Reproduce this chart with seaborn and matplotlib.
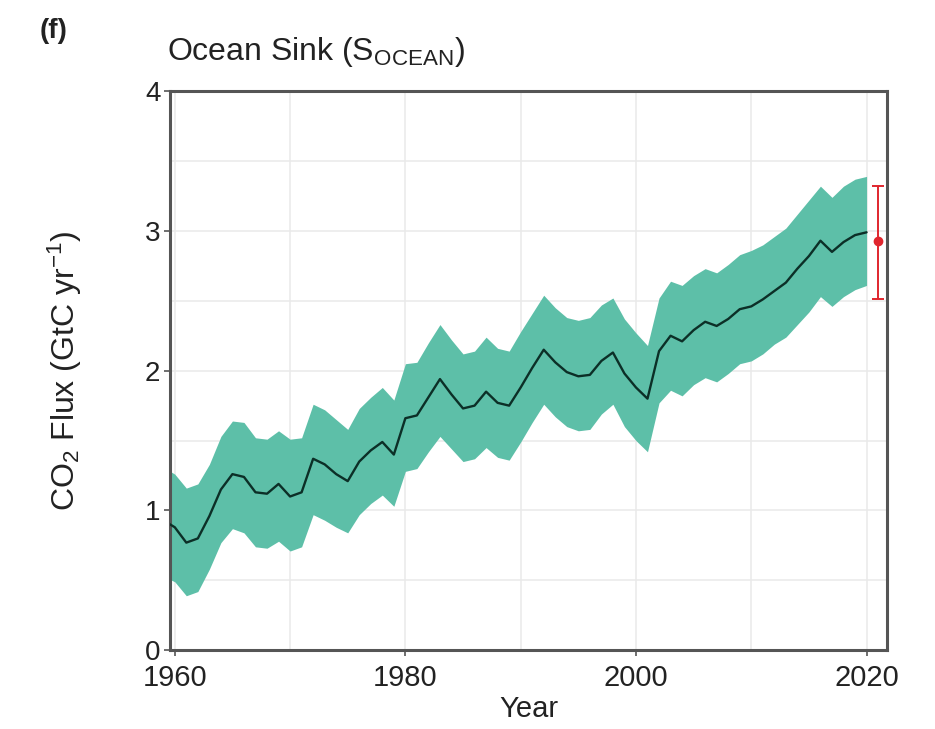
import numpy as np
import pandas as pd
import matplotlib
matplotlib.use("Agg")
import matplotlib.pyplot as plt
from matplotlib.ticker import MultipleLocator
from matplotlib.transforms import ScaledTranslation
import seaborn as sns

# ocean sink, GtC/yr (1959-2020)
years = list(range(1959, 2021))
sink = [0.93, 0.88, 0.77, 0.80, 0.96, 1.15, 1.26, 1.24, 1.13, 1.12,
        1.19, 1.10, 1.13, 1.37, 1.33, 1.26, 1.21, 1.35, 1.43, 1.49,
        1.40, 1.66, 1.68, 1.81, 1.94, 1.83, 1.73, 1.75, 1.85, 1.77,
        1.75, 1.88, 2.02, 2.15, 2.06, 1.99, 1.96, 1.97, 2.07, 2.13,
        1.98, 1.88, 1.80, 2.14, 2.25, 2.21, 2.29, 2.35, 2.32, 2.37,
        2.44, 2.46, 2.51, 2.57, 2.63, 2.73, 2.82, 2.93, 2.85, 2.92,
        2.97, 2.99]
sink_hi = [1.31, 1.26, 1.16, 1.19, 1.33, 1.53, 1.64, 1.63, 1.52, 1.51,
           1.57, 1.51, 1.52, 1.76, 1.72, 1.65, 1.58, 1.73, 1.81, 1.88,
           1.79, 2.05, 2.06, 2.20, 2.33, 2.22, 2.12, 2.14, 2.24, 2.16,
           2.14, 2.28, 2.41, 2.54, 2.45, 2.38, 2.36, 2.38, 2.47, 2.52,
           2.37, 2.27, 2.18, 2.52, 2.64, 2.61, 2.68, 2.73, 2.70, 2.76,
           2.83, 2.86, 2.90, 2.96, 3.02, 3.12, 3.22, 3.32, 3.24, 3.32,
           3.37, 3.39]
sink_lo = [0.53, 0.49, 0.39, 0.42, 0.58, 0.77, 0.87, 0.84, 0.74, 0.73,
           0.78, 0.71, 0.74, 0.97, 0.93, 0.88, 0.84, 0.97, 1.05, 1.11,
           1.03, 1.28, 1.30, 1.42, 1.53, 1.44, 1.35, 1.37, 1.45, 1.38,
           1.36, 1.49, 1.63, 1.76, 1.67, 1.60, 1.57, 1.58, 1.69, 1.76,
           1.60, 1.50, 1.42, 1.77, 1.86, 1.82, 1.90, 1.95, 1.92, 1.98,
           2.05, 2.07, 2.12, 2.19, 2.24, 2.33, 2.42, 2.53, 2.46, 2.53,
           2.58, 2.61]

# 2021 projection with its range
proj_year = 2021
proj_val = 2.93
proj_lo = 2.51
proj_hi = 3.32

df = pd.DataFrame({"Year": years, "sink": sink, "lo": sink_lo, "hi": sink_hi})

sns.set_theme(style="white")
plt.rcParams["font.family"] = ["Liberation Sans", "DejaVu Sans"]
plt.rcParams["mathtext.fontset"] = "custom"
plt.rcParams["mathtext.rm"] = "Liberation Sans"
plt.rcParams["mathtext.it"] = "Liberation Sans:italic"

fig = plt.figure(figsize=(9.35, 7.29), dpi=100)
ax = fig.add_axes([0.182, 0.108, 0.767, 0.767])

ax.fill_between(df["Year"], df["lo"], df["hi"], color="#5dbfa8", lw=0, zorder=2)
sns.lineplot(data=df, x="Year", y="sink", ax=ax, color="#0c2f27", lw=1.7, zorder=3)
ax.errorbar([proj_year], [proj_val],
            yerr=[[proj_val - proj_lo], [proj_hi - proj_val]],
            fmt="o", color="#e0262e", ms=6, capsize=4, elinewidth=1.4,
            capthick=1.4, zorder=4)

ax.set_xlim(1959.6, 2021.8)
ax.set_ylim(0, 4)
ax.xaxis.set_major_locator(MultipleLocator(20))
ax.xaxis.set_minor_locator(MultipleLocator(10))
ax.yaxis.set_major_locator(MultipleLocator(1))
ax.yaxis.set_minor_locator(MultipleLocator(0.5))
ax.grid(True, which="both", color="#e9e9e9", lw=1.1, zorder=0)
ax.set_axisbelow(True)

for s in ax.spines.values():
    s.set_color("#555555")
    s.set_linewidth(2.2)
ax.tick_params(axis="both", which="major", direction="out", length=4,
               width=1.2, color="#555555", bottom=True, left=True,
               labelcolor="#222222")
ax.tick_params(axis="x", which="major", labelsize=21, pad=6)
ax.tick_params(axis="y", which="major", labelsize=20, pad=3)
ax.tick_params(axis="both", which="minor", length=0)

# nudge the "0" label up a little so it clears "1960"
lab0 = ax.yaxis.get_major_ticks()[0].label1
lab0.set_transform(lab0.get_transform() + ScaledTranslation(0, 5 / 72, fig.dpi_scale_trans))

ax.set_xlabel("Year", fontsize=21, color="#222222", labelpad=2)
ax.set_ylabel("CO$_2$ Flux (GtC yr$^{-1}$)", fontsize=23, color="#222222", labelpad=44)

fig.text(0.179, 0.905, "Ocean Sink (S$_{\\mathrm{OCEAN}}$)", fontsize=23,
         color="#222222", ha="left", va="bottom")
fig.text(0.042, 0.94, "(f)", fontsize=20, fontweight="bold", color="#222222",
         ha="left", va="bottom")

fig.savefig("out.png", dpi=100)
